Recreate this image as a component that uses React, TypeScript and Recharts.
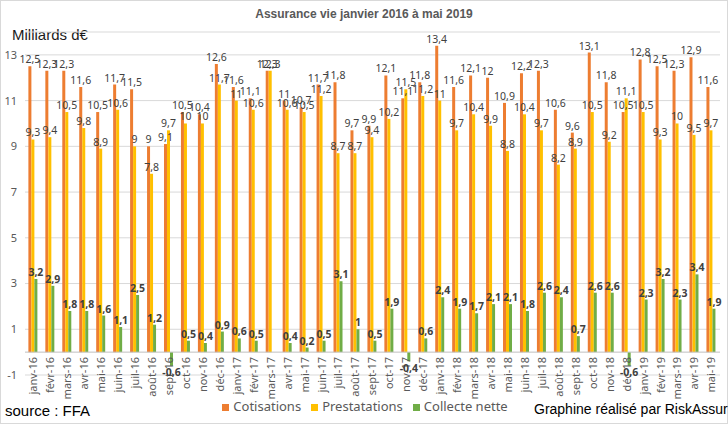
import React from 'react';
import { BarChart, Bar, XAxis, YAxis, CartesianGrid, ReferenceLine, LabelList, Legend } from 'recharts';

const months = [
  'janv-16','févr-16','mars-16','avr-16','mai-16','juin-16','juil-16','août-16','sept-16','oct-16','nov-16','déc-16',
  'janv-17','févr-17','mars-17','avr-17','mai-17','juin-17','juil-17','août-17','sept-17','oct-17','nov-17','déc-17',
  'janv-18','févr-18','mars-18','avr-18','mai-18','juin-18','juil-18','août-18','sept-18','oct-18','nov-18','déc-18',
  'janv-19','févr-19','mars-19','avr-19','mai-19',
];
const cotisations = [
  12.5, 12.3, 12.3, 11.6, 10.5, 11.7, 11.5, 9, 9.1, 10.5, 10.4, 12.6,
  11.6, 11.1, 12.3, 11, 10.7, 11.7, 11.8, 9.7, 9.9, 12.1, 11.1, 11.8,
  13.4, 11.6, 12.1, 12, 10.9, 12.2, 12.3, 10.6, 9.6, 13.1, 11.8, 10.5,
  12.8, 12.5, 12.3, 12.9, 11.6,
];
const prestations = [
  9.3, 9.4, 10.5, 9.8, 8.9, 10.6, 9, 7.8, 9.7, 10, 10, 11.7,
  11, 10.6, 12.3, 10.6, 10.5, 11.2, 8.7, 8.7, 9.4, 10.2, 11.5, 11.2,
  11, 9.7, 10.4, 9.9, 8.8, 10.4, 9.7, 8.2, 8.9, 10.5, 9.2, 11.1,
  10.5, 9.3, 10, 9.5, 9.7,
];
const collecte = [
  3.2, 2.9, 1.8, 1.8, 1.6, 1.1, 2.5, 1.2, -0.6, 0.5, 0.4, 0.9,
  0.6, 0.5, 0, 0.4, 0.2, 0.5, 3.1, 1, 0.5, 1.9, -0.4, 0.6,
  2.4, 1.9, 1.7, 2.1, 2.1, 1.8, 2.6, 2.4, 0.7, 2.6, 2.6, -0.6,
  2.3, 3.2, 2.3, 3.4, 1.9,
];
const yTicks = [-1, 1, 3, 5, 7, 9, 11, 13];
const seriesOrder = ['Cotisations', 'Prestatations', 'Collecte nette'];

const data = months.map((m, i) => ({
  month: m,
  cot: cotisations[i],
  pre: prestations[i],
  col: collecte[i],
}));

const fmt = (v: any) => String(v).replace('.', ',');

const XTick = (props: any) => {
  const { x, y, payload } = props;
  return (
    <text
      x={0}
      y={0}
      dy="0.35em"
      transform={`translate(${x},${y - 18}) rotate(-90)`}
      textAnchor="end"
      fill="#595959"
      fontSize={11}
      fontFamily="'Noto Sans', sans-serif"
    >
      {payload.value}
    </text>
  );
};

export default function App() {
  return (
    <div
      style={{
        position: 'absolute',
        left: 0,
        top: 0,
        width: 728,
        height: 424,
        background: '#fff',
        fontFamily: "'Liberation Sans', Arial, sans-serif",
        overflow: 'hidden',
      }}
    >
      <div
        style={{
          position: 'absolute', left: 0, top: 0, width: 726, height: 422,
          border: '1px solid #d9d9d9', pointerEvents: 'none',
        }}
      />
      <div
        style={{
          position: 'absolute', left: 0, top: 7, width: 728, textAlign: 'center',
          fontWeight: 'bold', fontSize: 12, color: '#595959',
        }}
      >
        Assurance vie janvier 2016 à mai 2019
      </div>
      <div style={{ position: 'absolute', left: 12, top: 26, fontSize: 15, color: '#1a1a1a' }}>
        Milliards d€
      </div>
      <div style={{ position: 'absolute', left: 5, top: 402, fontSize: 15, color: '#000' }}>
        source : FFA
      </div>
      <div style={{ position: 'absolute', left: 534, top: 401, fontSize: 14, color: '#000', whiteSpace: 'nowrap' }}>
        Graphine réalisé par RiskAssur
      </div>
      <BarChart
        width={728}
        height={424}
        data={data}
        margin={{ top: 32, right: 8, bottom: 0, left: 0 }}
        barCategoryGap="20%"
        barGap={0}
      >
        <CartesianGrid vertical={false} stroke="#d9d9d9" />
        <XAxis
          dataKey="month"
          interval={0}
          height={49}
          axisLine={false}
          tickLine={false}
          tickSize={0}
          tickMargin={0}
          tick={<XTick />}
        />
        <YAxis
          domain={[-1, 14]}
          ticks={yTicks}
          width={25}
          axisLine={false}
          tickLine={false}
          tickSize={0}
          tickMargin={8}
          tick={{ fill: '#595959', fontSize: 11, fontFamily: "'Noto Sans', sans-serif" }}
        />
        <ReferenceLine y={0} stroke="#bfbfbf" />
        <Legend
          layout="horizontal"
          verticalAlign="middle"
          align="center"
          iconType="square"
          iconSize={7}
          itemSorter={(item: any) => seriesOrder.indexOf(item.value)}
          wrapperStyle={{ top: 397, left: 215, width: 310, fontSize: 13, fontFamily: "'Noto Sans', sans-serif" }}
          formatter={(value: any) => <span style={{ color: '#595959' }}>{value}</span>}
        />
        <Bar dataKey="cot" name="Cotisations" fill="#ED7D31" isAnimationActive={false}>
          <LabelList dataKey="cot" position="top" offset={3} formatter={fmt} fill="#404040" fontSize={10.5} fontFamily="'Noto Sans', sans-serif" />
        </Bar>
        <Bar dataKey="pre" name="Prestatations" fill="#FFC000" isAnimationActive={false}>
          <LabelList dataKey="pre" position="top" offset={3} formatter={fmt} fill="#404040" fontSize={10.5} fontFamily="'Noto Sans', sans-serif" />
        </Bar>
        <Bar dataKey="col" name="Collecte nette" fill="#70AD47" isAnimationActive={false}>
          <LabelList dataKey="col" position="top" offset={3} formatter={fmt} fill="#404040" fontSize={10.5} fontWeight="bold" fontFamily="'Noto Sans', sans-serif" />
        </Bar>
      </BarChart>
    </div>
  );
}
